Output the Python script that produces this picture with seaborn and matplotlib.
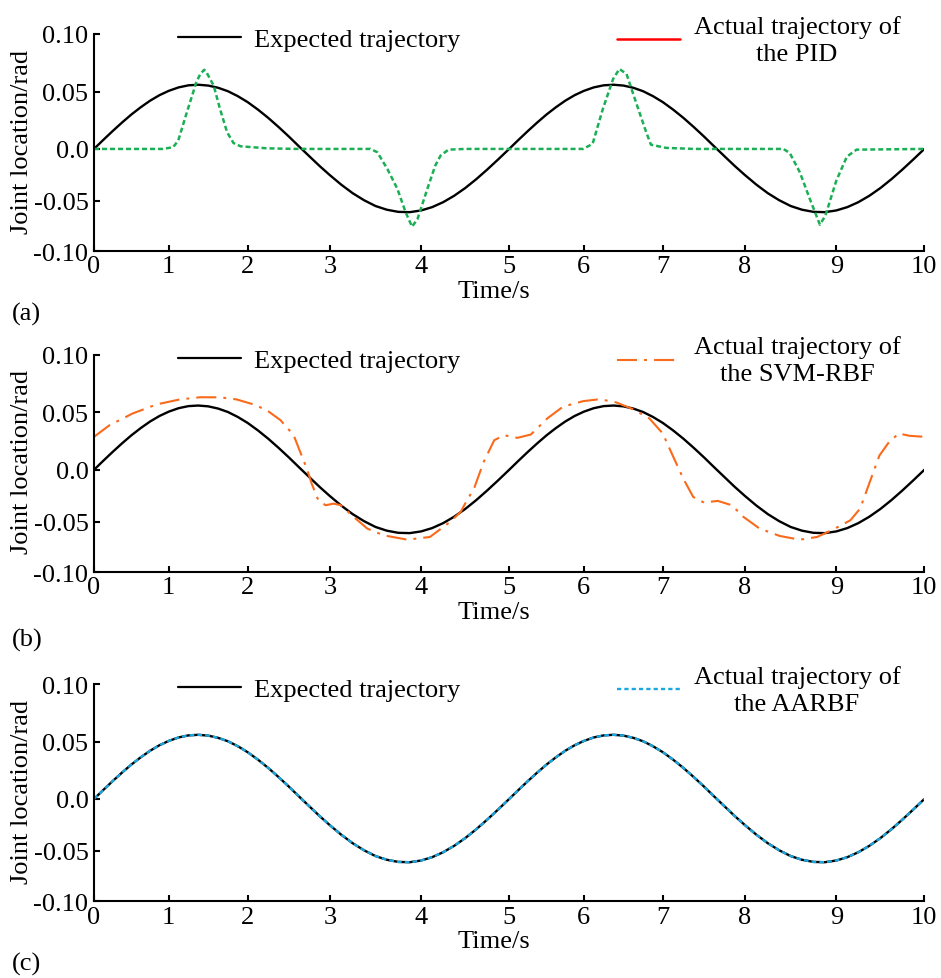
import matplotlib
matplotlib.use('Agg')
import matplotlib.pyplot as plt
from matplotlib.lines import Line2D
import numpy as np
import seaborn as sns

# expected trajectory, read every 0.125 s (label units of the axes)
time = np.linspace(0, 10, 81)
expected = [0.0, 0.0079, 0.0156, 0.0230, 0.0300, 0.0363, 0.0420, 0.0468,
            0.0506, 0.0536, 0.0554, 0.0559, 0.0552, 0.0533, 0.0503, 0.0460,
            0.0408, 0.0343, 0.0271, 0.0192, 0.0109, 0.0022, -0.0070, -0.0164,
            -0.0252, -0.0344, -0.0426, -0.0494, -0.0551, -0.0588, -0.0609, -0.0612,
            -0.0595, -0.0562, -0.0513, -0.0451, -0.0377, -0.0292, -0.0199, -0.0101,
            0.0, 0.0079, 0.0156, 0.0230, 0.0300, 0.0363, 0.0420, 0.0468,
            0.0506, 0.0536, 0.0554, 0.0559, 0.0552, 0.0533, 0.0503, 0.0460,
            0.0408, 0.0343, 0.0271, 0.0192, 0.0109, 0.0022, -0.0070, -0.0164,
            -0.0252, -0.0344, -0.0426, -0.0494, -0.0551, -0.0588, -0.0609, -0.0612,
            -0.0595, -0.0562, -0.0513, -0.0451, -0.0377, -0.0292, -0.0199, -0.0101,
            0.0]
# AARBF output lies right on top of the expected curve
aarbf = [0.0, 0.0079, 0.0156, 0.0230, 0.0300, 0.0363, 0.0420, 0.0468,
         0.0506, 0.0536, 0.0554, 0.0559, 0.0552, 0.0533, 0.0503, 0.0460,
         0.0408, 0.0343, 0.0271, 0.0192, 0.0109, 0.0022, -0.0070, -0.0164,
         -0.0252, -0.0344, -0.0426, -0.0494, -0.0551, -0.0588, -0.0609, -0.0612,
         -0.0595, -0.0562, -0.0513, -0.0451, -0.0377, -0.0292, -0.0199, -0.0101,
         0.0, 0.0079, 0.0156, 0.0230, 0.0300, 0.0363, 0.0420, 0.0468,
         0.0506, 0.0536, 0.0554, 0.0559, 0.0552, 0.0533, 0.0503, 0.0460,
         0.0408, 0.0343, 0.0271, 0.0192, 0.0109, 0.0022, -0.0070, -0.0164,
         -0.0252, -0.0344, -0.0426, -0.0494, -0.0551, -0.0588, -0.0609, -0.0612,
         -0.0595, -0.0562, -0.0513, -0.0451, -0.0377, -0.0292, -0.0199, -0.0101,
         0.0]

pid_t = [0, 0.92, 1.055, 1.12, 1.23, 1.35, 1.40, 1.45, 1.48, 1.57,
         1.65, 1.74, 1.82, 1.91, 2.24, 2.6, 3.445, 3.52, 3.63, 3.74,
         3.83, 3.90, 3.96, 4.07, 4.16, 4.22, 4.31, 4.5, 5.99, 6.11,
         6.24, 6.37, 6.45, 6.54, 6.66, 6.79, 6.85, 7.04, 7.38, 8.42,
         8.49, 8.60, 8.71, 8.82, 8.88, 9.0, 9.12, 9.23, 10]
pid_y = [0, 0, 0.0015, 0.0072, 0.0320, 0.0581, 0.0653, 0.0689, 0.0665, 0.0551,
         0.0348, 0.0145, 0.0052, 0.0023, 0.0005, 0, 0, -0.0032, -0.0193, -0.0385,
         -0.0613, -0.0756, -0.0680, -0.0385, -0.0161, -0.0065, -0.0007, 0, 0, 0.0044,
         0.0348, 0.0609, 0.0696, 0.0653, 0.0407, 0.0145, 0.0037, 0.0009, 0, 0,
         -0.0039, -0.0224, -0.0482, -0.0736, -0.0647, -0.0305, -0.0074, -0.0007, 0]

svm_t = [0, 0.21, 0.52, 0.84, 1.14, 1.40, 1.65, 1.86, 2.07, 2.23,
         2.40, 2.56, 2.64, 2.72, 2.78, 2.86, 2.95, 3.04, 3.12, 3.26,
         3.41, 3.59, 3.85, 4.10, 4.33, 4.45, 4.52, 4.60, 4.71, 4.83,
         4.94, 5.11, 5.29, 5.51, 5.72, 5.99, 6.20, 6.41, 6.62, 6.83,
         7.0, 7.12, 7.25, 7.37, 7.50, 7.67, 7.84, 7.98, 8.16, 8.38,
         8.60, 8.79, 8.97, 9.16, 9.27, 9.38, 9.49, 9.60, 9.71, 9.83, 10.0]
svm_y = [0.0287, 0.0389, 0.0491, 0.0569, 0.0612, 0.0631, 0.0630, 0.0612, 0.0569, 0.0520,
         0.0432, 0.0301, 0.0155, 0.0010, -0.0134, -0.0293, -0.0341, -0.0325, -0.0340, -0.0452,
         -0.0567, -0.0634, -0.0677, -0.0650, -0.0500, -0.0404, -0.0293, -0.0182, 0.0068, 0.0257,
         0.0301, 0.0278, 0.0307, 0.0447, 0.0549, 0.0597, 0.0614, 0.0586, 0.0528, 0.0447,
         0.0316, 0.0125, -0.0086, -0.0261, -0.0315, -0.0299, -0.0341, -0.0452, -0.0567, -0.0640,
         -0.0677, -0.0650, -0.0574, -0.0485, -0.0373, -0.0118, 0.0125, 0.0243, 0.0316, 0.0296, 0.0287]

x_ticks = [0, 1, 2, 3, 4, 5, 6, 7, 8, 9, 10]
y_ticks = [-0.10, -0.05, 0.0, 0.05, 0.10]
y_tick_labels = ['-0.10', '-0.05', '0.0', '0.05', '0.10']
panel_tags = ['(a)', '(b)', '(c)']
actual_labels = ['Actual trajectory of\nthe PID', 'Actual trajectory of\nthe SVM-RBF',
                 'Actual trajectory of\nthe AARBF']

# the original axes are not evenly spaced: where each tick sits along the axis
x_tick_frac = [0, 0.090, 0.185, 0.284, 0.394, 0.5, 0.590, 0.685, 0.784, 0.894, 1.0]
y_tick_frac = [0, 0.232, 0.471, 0.735, 1.0]


def xfwd(v):
    return np.interp(v, x_ticks, x_tick_frac)


def xinv(v):
    return np.interp(v, x_tick_frac, x_ticks)


def yfwd(v):
    return np.interp(v, y_ticks, y_tick_frac)


def yinv(v):
    return np.interp(v, y_tick_frac, y_ticks)


sns.set_style('ticks')
plt.rcParams['font.family'] = ['Liberation Serif', 'DejaVu Serif']
plt.rcParams['font.size'] = 19
plt.rcParams['text.color'] = 'black'
plt.rcParams['axes.labelcolor'] = 'black'

fig = plt.figure(figsize=(9.41, 9.79), dpi=100)
rects = [[0.0999, 0.7423, 0.8824, 0.2220],
         [0.0999, 0.4144, 0.8824, 0.2223],
         [0.0999, 0.0783, 0.8824, 0.2220]]
tag_y = [0.679, 0.346, 0.0153]

green = '#1AAF54'
orange = '#F96A1B'
blue = '#1AA7E0'

styles = [
    dict(x=pid_t, y=pid_y, color=green, ls=(0, (2.0, 1.2)), lw=1.8,
         handle=Line2D([], [], color='#FF0000', lw=1.8)),
    dict(x=svm_t, y=svm_y, color=orange, ls=(0, (9.6, 3.4, 1.4, 3.4)), lw=1.5,
         handle=Line2D([], [], color=orange, lw=1.5, ls=(0, (9.6, 3.4, 1.4, 3.4)))),
    dict(x=time, y=aarbf, color=blue, ls=(0, (2.0, 1.3)), lw=1.7,
         handle=Line2D([], [], color=blue, lw=1.7, ls=(0, (1.8, 1.3)))),
]

for i, st in enumerate(styles):
    ax = fig.add_axes(rects[i])
    sns.lineplot(x=time, y=expected, ax=ax, color='black', lw=1.7, estimator=None, sort=False)
    sns.lineplot(x=st['x'], y=st['y'], ax=ax, color=st['color'], lw=st['lw'],
                 linestyle=st['ls'], estimator=None, sort=False)

    ax.set_xscale('function', functions=(xfwd, xinv))
    ax.set_yscale('function', functions=(yfwd, yinv))
    ax.set_xlim(0, 10)
    ax.set_ylim(-0.10, 0.10)
    ax.set_xticks(x_ticks, [str(t) for t in x_ticks])
    ax.set_yticks(y_ticks, y_tick_labels)
    ax.minorticks_off()

    sns.despine(ax=ax)
    for sp in ['left', 'bottom']:
        ax.spines[sp].set_linewidth(1.5)
        ax.spines[sp].set_color('black')
    ax.tick_params(axis='both', direction='in', length=4, width=1.5, color='black',
                   labelsize=19, labelcolor='black')
    ax.tick_params(axis='x', pad=3)
    ax.tick_params(axis='y', pad=4)

    ax.set_xlabel('Time/s', fontsize=19)
    ax.set_ylabel('Joint location/rad', fontsize=19)
    ax.xaxis.set_label_coords(0.482, -0.13)
    ax.yaxis.set_label_coords(-0.074, 0.51)

    leg1 = ax.legend([Line2D([], [], color='black', lw=1.6)], ['Expected trajectory'],
                     loc='center left', bbox_to_anchor=(0.101, 0.974), frameon=False,
                     handlelength=2.4, handletextpad=0.5, borderpad=0, borderaxespad=0,
                     fontsize=19)
    ax.add_artist(leg1)
    leg2 = ax.legend([st['handle']], [actual_labels[i]],
                     loc='center left', bbox_to_anchor=(0.630, 0.974), frameon=False,
                     handlelength=2.4, handletextpad=0.5, borderpad=0, borderaxespad=0,
                     fontsize=19)
    for t in leg2.get_texts():
        t.set_multialignment('center')
        t.set_linespacing(1.3)

    fig.text(0.0128, tag_y[i], panel_tags[i], fontsize=19, va='center', ha='left')

fig.savefig('out.png', dpi=100)
